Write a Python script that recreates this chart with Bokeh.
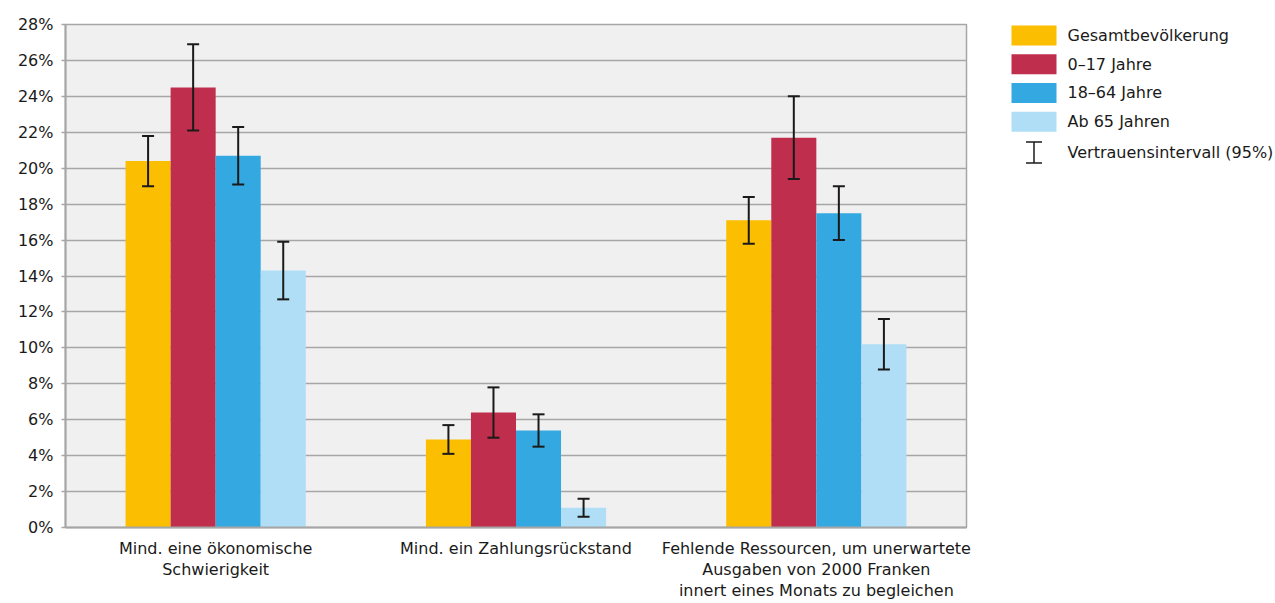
from bokeh.plotting import figure
from bokeh.models import (ColumnDataSource, FactorRange, Range1d, FixedTicker,
                          PrintfTickFormatter, Whisker, TeeHead)
from bokeh.transform import dodge
from bokeh.layouts import row
from bokeh.embed import file_html
from bokeh.resources import INLINE
from bokeh.core.properties import value

# ---------------- data ----------------
categories = [
    "Mind. eine ökonomische\nSchwierigkeit",
    "Mind. ein Zahlungsrückstand",
    "Fehlende Ressourcen, um unerwartete\nAusgaben von 2000 Franken\ninnert eines Monats zu begleichen",
]
series = ["Gesamtbevölkerung", "0–17 Jahre", "18–64 Jahre", "Ab 65 Jahren"]
colors = ["#FBBE00", "#BF2E4C", "#34A8E0", "#B0DEF7"]

gesamt = [20.4, 4.9, 17.1]
gesamt_lo = [19.0, 4.1, 15.8]
gesamt_hi = [21.8, 5.7, 18.4]

jahre_0_17 = [24.5, 6.4, 21.7]
jahre_0_17_lo = [22.1, 5.0, 19.4]
jahre_0_17_hi = [26.9, 7.8, 24.0]

jahre_18_64 = [20.7, 5.4, 17.5]
jahre_18_64_lo = [19.1, 4.5, 16.0]
jahre_18_64_hi = [22.3, 6.3, 19.0]

ab_65 = [14.3, 1.1, 10.2]
ab_65_lo = [12.7, 0.6, 8.8]
ab_65_hi = [15.9, 1.6, 11.6]

ci_label = "Vertrauensintervall (95%)"
y_ticks = list(range(0, 29, 2))

values = [gesamt, jahre_0_17, jahre_18_64, ab_65]
lows = [gesamt_lo, jahre_0_17_lo, jahre_18_64_lo, ab_65_lo]
highs = [gesamt_hi, jahre_0_17_hi, jahre_18_64_hi, ab_65_hi]

FONT = "DejaVu Sans"
TXT = "#1a1a1a"
GRID = "#a6a6a6"

# ---------------- main chart ----------------
MAIN_W = 985
H = 603
F_TOP = 24
F_BOT = 528
p = figure(x_range=FactorRange(factors=categories), y_range=Range1d(0, 28),
           width=MAIN_W, height=H, output_backend="svg", toolbar_location=None,
           min_border_left=65, min_border_right=MAIN_W - 966, min_border_top=F_TOP,
           min_border_bottom=H - F_BOT)
p.background_fill_color = "#f0f0f0"
p.border_fill_color = "white"
p.outline_line_color = GRID
p.outline_line_width = 1.5

bar_w = 0.15
offsets = [-0.225, -0.075, 0.075, 0.225]
for name, vals, lo, hi, col, off in zip(series, values, lows, highs, colors, offsets):
    src = ColumnDataSource(dict(cat=categories, val=vals, lo=lo, hi=hi))
    p.vbar(x=dodge("cat", off, range=p.x_range), top="val", width=bar_w,
           source=src, fill_color=col, line_color=None)
    w = Whisker(source=src, base=dodge("cat", off, range=p.x_range),
                lower="lo", upper="hi", line_color=TXT, line_width=2, level="overlay",
                upper_head=TeeHead(size=12, line_width=2, line_color=TXT),
                lower_head=TeeHead(size=12, line_width=2, line_color=TXT))
    p.add_layout(w)

p.xgrid.grid_line_color = None
p.ygrid.grid_line_color = GRID
p.ygrid.grid_line_width = 1.5
p.ygrid.ticker = FixedTicker(ticks=y_ticks)

p.yaxis.ticker = FixedTicker(ticks=y_ticks)
p.yaxis.formatter = PrintfTickFormatter(format="%d%%")
p.yaxis.axis_line_color = GRID
p.yaxis.axis_line_width = 2
p.yaxis.major_tick_line_color = GRID
p.yaxis.major_tick_line_width = 1.5
p.yaxis.major_tick_out = 4
p.yaxis.major_tick_in = 0
p.yaxis.minor_tick_line_color = None
p.yaxis.major_label_standoff = 8
p.yaxis.major_label_text_font = FONT
p.yaxis.major_label_text_font_size = "16px"
p.yaxis.major_label_text_color = TXT

p.xaxis.axis_line_color = GRID
p.xaxis.axis_line_width = 2
p.xaxis.major_tick_line_color = None
p.xaxis.major_tick_out = 0
p.xaxis.minor_tick_line_color = None
p.xaxis.major_label_standoff = 11
p.xaxis.major_label_text_font = FONT
p.xaxis.major_label_text_font_size = "16px"
p.xaxis.major_label_text_color = TXT
p.xaxis.major_label_text_line_height = 1.12
p.xaxis.major_label_orientation = "horizontal"

# ---------------- legend panel ----------------
L_W = 1275 - MAIN_W
lg = figure(width=L_W, height=H, x_range=Range1d(0, L_W), y_range=Range1d(F_BOT, F_TOP),
            output_backend="svg", toolbar_location=None,
            min_border_left=0, min_border_right=0,
            min_border_top=F_TOP, min_border_bottom=H - F_BOT)
lg.axis.visible = False
lg.grid.visible = False
lg.outline_line_color = None
lg.background_fill_color = "white"
lg.border_fill_color = "white"

row_y0 = 35
row_step = 28.8
sw_x = 1033.5 - MAIN_W
txt_x = 1067 - MAIN_W
idx = list(range(len(series)))
ys = [row_y0 + i * row_step for i in idx]
lsrc = ColumnDataSource(dict(y=ys, color=colors, label=series))
lg.rect(x=sw_x, y="y", width=45, height=20, fill_color="color", line_color=None, source=lsrc)
lg.text(x=txt_x, y="y", text="label", source=lsrc, text_font=value(FONT),
        text_font_size="16px", text_color=TXT, text_baseline="middle")

ci_y = row_y0 + len(series) * row_step + 2
csrc = ColumnDataSource(dict(x=[sw_x], lo=[ci_y - 10.5], hi=[ci_y + 10.5], y=[ci_y], label=[ci_label]))
lg.add_layout(Whisker(source=csrc, base="x", lower="lo", upper="hi", line_color=TXT, line_width=1.5,
                      level="overlay",
                      upper_head=TeeHead(size=16, line_width=1.5, line_color=TXT),
                      lower_head=TeeHead(size=16, line_width=1.5, line_color=TXT)))
lg.text(x=txt_x, y="y", text="label", source=csrc, text_font=value(FONT),
        text_font_size="16px", text_color=TXT, text_baseline="middle")

layout = row(p, lg)
open("out.html", "w").write(file_html(layout, INLINE))
